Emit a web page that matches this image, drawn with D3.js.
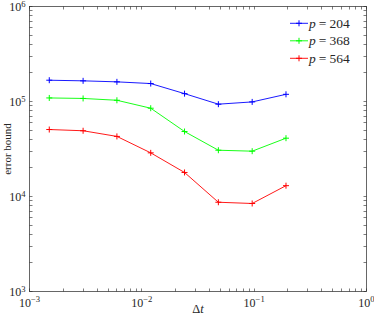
<!DOCTYPE html>
<html><head><meta charset="utf-8">
<script src="https://cdn.jsdelivr.net/npm/d3@7"></script>
<style>
html,body{margin:0;padding:0;background:#fff;}
svg{display:block;}
text{font-family:"Liberation Serif","Times New Roman",serif;fill:#262626;}
</style></head>
<body>
<script>
const dt = [0.0015, 0.003, 0.006, 0.012, 0.024, 0.048, 0.096, 0.192];
const p204 = [167500, 165000, 161000, 154500, 121000, 93700, 99000, 119000];
const p368 = [109000, 107700, 103000, 85000, 48300, 30700, 30000, 41100];
const p564 = [50700, 49200, 42900, 28800, 17900, 8700, 8440, 13000];
const seriesNames = ["204", "368", "564"];
const seriesColors = ["#0000ff", "#00ff00", "#ff0000"];
const xTickExps = [-3, -2, -1, 0];
const yTickExps = [3, 4, 5, 6];

const W = 374, H = 315;
const L = 29.5, R = 366.5, T = 6.5, B = 291.5;
const svg = d3.select("body").append("svg").attr("width", W).attr("height", H);

const x = d3.scaleLog().domain([1e-3, 1]).range([L, R]);
const y = d3.scaleLog().domain([1e3, 1e6]).range([B, T]);

const axisColor = "#262626";
const g = svg.append("g");

function logTicks(minExp, maxExp) {
  const t = [];
  for (let e = minExp; e <= maxExp; e++) {
    for (let m = 1; m <= 9; m++) {
      const v = m * Math.pow(10, e);
      if (e === maxExp && m > 1) break;
      t.push(v);
    }
  }
  return t;
}
const tl = 3;
const xt = logTicks(-3, 0), yt = logTicks(3, 6);
xt.forEach(v => {
  const px = Math.round(x(v) - 0.5) + 0.5;
  g.append("line").attr("x1", px).attr("x2", px).attr("y1", B).attr("y2", B - tl).attr("stroke", axisColor).attr("stroke-width", 0.6);
  g.append("line").attr("x1", px).attr("x2", px).attr("y1", T).attr("y2", T + tl).attr("stroke", axisColor).attr("stroke-width", 0.6);
});
yt.forEach(v => {
  const py = Math.round(y(v) - 0.5) + 0.5;
  g.append("line").attr("y1", py).attr("y2", py).attr("x1", L).attr("x2", L + tl).attr("stroke", axisColor).attr("stroke-width", 0.6);
  g.append("line").attr("y1", py).attr("y2", py).attr("x1", R).attr("x2", R - tl).attr("stroke", axisColor).attr("stroke-width", 0.6);
});
g.append("rect").attr("x", L).attr("y", T).attr("width", R - L).attr("height", B - T)
  .attr("fill", "none").attr("stroke", axisColor).attr("stroke-width", 0.7);

function powLabel(sel, e, size) {
  sel.append("tspan").text("10");
  sel.append("tspan").attr("dy", -size * 0.36).attr("font-size", size * 0.72).text(e < 0 ? "\u2212" + (-e) : String(e));
}
xTickExps.forEach(e => {
  const t = svg.append("text").attr("x", x(Math.pow(10, e))).attr("y", 306.5)
    .attr("text-anchor", "middle").attr("font-size", 12);
  powLabel(t, e, 12);
});
yTickExps.forEach(e => {
  const t = svg.append("text").attr("x", 25.5).attr("y", y(Math.pow(10, e)) + 4.5)
    .attr("text-anchor", "end").attr("font-size", 12);
  powLabel(t, e, 12);
});

svg.append("text").attr("x", (L + R) / 2).attr("y", 312.5).attr("text-anchor", "middle")
  .attr("font-size", 12.5)
  .html('<tspan>\u0394</tspan><tspan font-style="italic">t</tspan>');
svg.append("text").attr("transform", `translate(11,${(T + B) / 2}) rotate(-90)`)
  .attr("text-anchor", "middle").attr("font-size", 11).text("error bound");

const allSeries = [p204, p368, p564];
const line = d3.line().x(d => x(d[0])).y(d => y(d[1]));
const ms = 3;
allSeries.forEach((vals, i) => {
  const pts = dt.map((d, j) => [d, vals[j]]);
  const sg = svg.append("g");
  sg.append("path").attr("d", line(pts)).attr("fill", "none")
    .attr("stroke", seriesColors[i]).attr("stroke-width", 0.9);
  pts.forEach(pt => {
    const px = x(pt[0]), py = y(pt[1]);
    sg.append("path").attr("d", `M${px - ms},${py}H${px + ms}M${px},${py - ms}V${py + ms}`)
      .attr("stroke", seriesColors[i]).attr("stroke-width", 1);
  });
});

const legRows = [23.3, 40.8, 58.3];
seriesNames.forEach((n, i) => {
  const yy = legRows[i];
  svg.append("line").attr("x1", 290).attr("x2", 308).attr("y1", yy).attr("y2", yy)
    .attr("stroke", seriesColors[i]).attr("stroke-width", 0.9);
  svg.append("path").attr("d", `M${299 - ms},${yy}H${299 + ms}M${299},${yy - ms}V${yy + ms}`)
    .attr("stroke", seriesColors[i]).attr("stroke-width", 1);
  svg.append("text").attr("x", 309).attr("y", yy + 4.5).attr("font-size", 13.5)
    .html(`<tspan font-style="italic">p</tspan><tspan dx="3">=</tspan><tspan dx="3">${n}</tspan>`);
});
</script>
</body></html>
